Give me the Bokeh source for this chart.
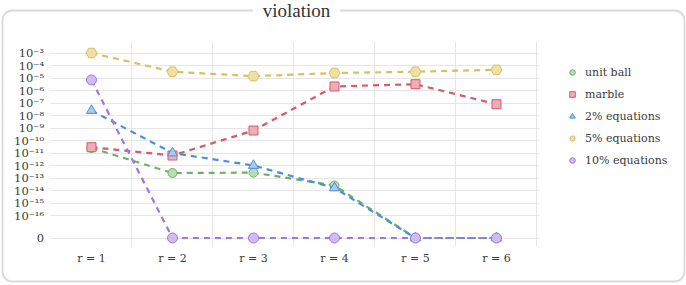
import numpy as np
from bokeh.plotting import figure
from bokeh.models import (FixedTicker, Grid, Legend, LegendItem, Label, BoxAnnotation,
                          ColumnDataSource)
from bokeh.embed import file_html
from bokeh.resources import INLINE

# ---- data ----
r_values = [1, 2, 3, 4, 5, 6]
x_labels = ["r = 1", "r = 2", "r = 3", "r = 4", "r = 5", "r = 6"]
unit_ball = [2.5e-11, 2.5e-13, 2.7e-13, 2.5e-14, 0, 0]
marble = [2.9e-11, 6.3e-12, 6.3e-10, 2.1e-6, 3.2e-6, 8e-8]
eq2 = [2.5e-8, 1e-11, 1e-12, 1.6e-14, 0, 0]
eq5 = [1e-3, 3.2e-5, 1.4e-5, 2.5e-5, 3.2e-5, 4.5e-5]
eq10 = [7e-6, 0, 0, 0, 0, 0]
y_exponents = list(range(-3, -17, -1))
series_names = ["unit ball", "marble", "2% equations", "5% equations", "10% equations"]

ZERO = -17.8  # position of the "0" tick on the log axis


def to_axis(vals):
    return [np.log10(v) if v > 0 else ZERO for v in vals]


SUP = str.maketrans("-0123456789", "⁻⁰¹²³⁴⁵⁶⁷⁸⁹")

# the frame covers the whole canvas; axes are pinned inside it
p = figure(width=686, height=285, output_backend="svg", toolbar_location=None,
           x_range=(-0.1235, 8.346), y_range=(-21.6, 1.2),
           min_border=0, min_border_left=0, min_border_right=0,
           min_border_top=0, min_border_bottom=0)
p.outline_line_color = None
p.background_fill_color = "white"
p.border_fill_color = "white"

FONT = "DejaVu Serif"

# axes
p.xaxis.ticker = FixedTicker(ticks=r_values)
p.xaxis.major_label_overrides = {r: lab for r, lab in zip(r_values, x_labels)}
p.xaxis.fixed_location = -18.64
p.yaxis.ticker = FixedTicker(ticks=y_exponents + [ZERO])
ov = {e: "10" + str(e).translate(SUP) for e in y_exponents}
ov[ZERO] = "0"
p.yaxis.major_label_overrides = ov
p.yaxis.fixed_location = 0.5
for ax in (p.xaxis[0], p.yaxis[0]):
    ax.axis_line_color = None
    ax.major_tick_line_color = None
    ax.minor_tick_line_color = None
    ax.major_tick_out = 0
    ax.minor_tick_out = 0
    ax.major_label_text_font = FONT
    ax.major_label_text_font_size = "11px"
    ax.major_label_text_color = "#3a3a3a"
p.yaxis.major_label_text_font_size = "11.5px"
p.yaxis.major_label_standoff = 7
p.xaxis.major_label_standoff = 3

# grids
p.xgrid.grid_line_color = None
p.ygrid.grid_line_color = "#e6e6e6"
p.ygrid.grid_line_width = 1
vgrid = Grid(dimension=0, ticker=FixedTicker(ticks=[1.5, 2.5, 3.5, 4.5, 5.5, 6.5]),
             grid_line_color="#e6e6e6", grid_line_width=1)
p.add_layout(vgrid)

# white masks that limit the grid lines to the plotting area
for kw in (dict(right=0.49), dict(left=6.52), dict(bottom=-2.12), dict(top=-18.5)):
    p.add_layout(BoxAnnotation(fill_color="white", fill_alpha=1, line_alpha=0,
                               level="underlay", **kw))

styles = [
    (unit_ball, "#6fb067", "#b9dcb2", "circle", 9),
    (marble, "#d65a6e", "#efadb8", "square", 9),
    (eq2, "#4e8fdb", "#a9c9ef", "triangle", 10),
    (eq5, "#d8bf62", "#eee0a6", "hex", 11),
    (eq10, "#9a79de", "#cdbdf1", "circle", 10),
]

items = []
for name, (vals, lc, fc, mk, sz) in zip(series_names, styles):
    src = ColumnDataSource(dict(x=r_values, y=to_axis(vals)))
    p.line("x", "y", source=src, line_color=lc, line_width=2.2, line_dash="6 5")
    sc = p.scatter("x", "y", source=src, marker=mk, size=sz, fill_color=fc,
                   line_color=lc, line_width=1)
    items.append(LegendItem(label=name, renderers=[sc]))

legend = Legend(items=items, location=(565, 118), label_text_font=FONT,
                label_text_font_size="11px", label_text_color="#3a3a3a",
                glyph_width=14, glyph_height=14, label_height=14, spacing=8,
                label_standoff=6, padding=0, margin=0,
                border_line_color=None, background_fill_alpha=0)
p.add_layout(legend, "center")

# rounded frame around the chart
frame_box = BoxAnnotation(left=-0.099, right=8.321, top=0.4, bottom=-21.28,
                          fill_alpha=0, line_color="#808080", line_width=1.8,
                          border_radius=10, level="underlay")
p.add_layout(frame_box)

title = Label(x=3.531, y=0.4, text="violation",
              text_align="center", text_baseline="middle", text_font="Liberation Serif",
              text_font_size="19px", text_color="#333333",
              background_fill_color="white", padding=10)
p.add_layout(title)

open("out.html", "w").write(file_html(p, INLINE))
